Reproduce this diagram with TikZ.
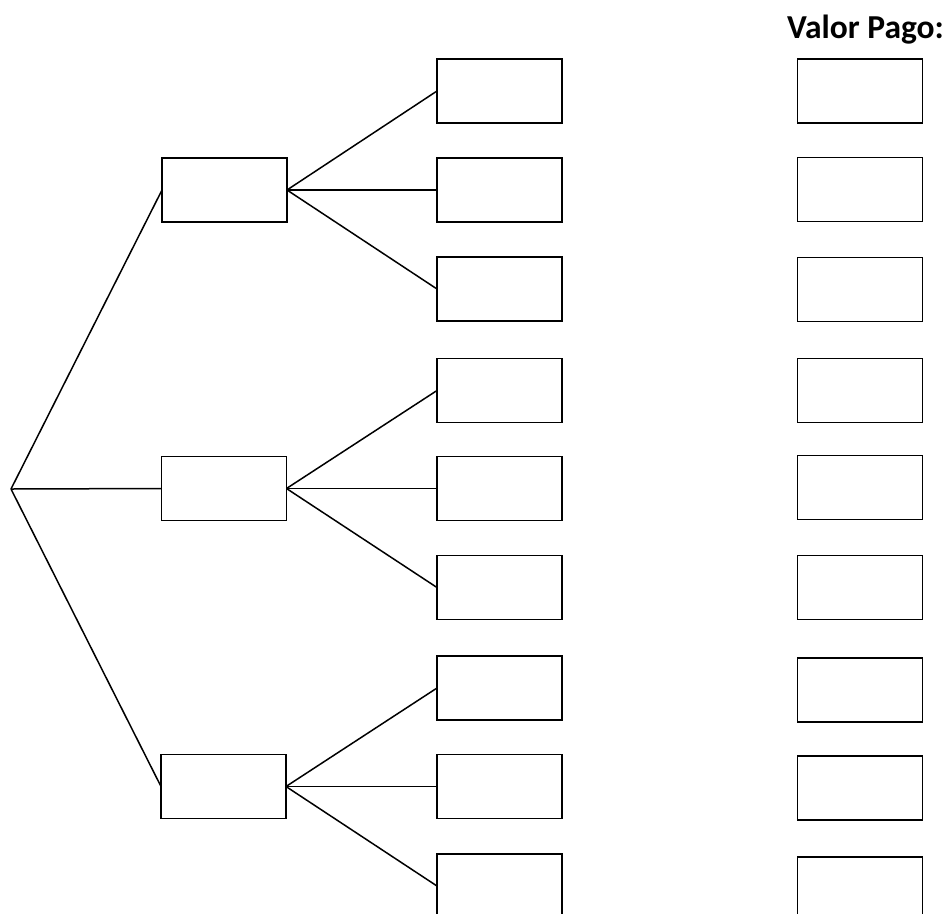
\documentclass[tikz,border=0pt]{standalone}
\usepackage{fontspec}
\setmainfont{Carlito}
\begin{document}
\begin{tikzpicture}[x=1pt,y=-1pt,
  bx/.style={draw=black, line width=1.7pt, minimum width=125pt, minimum height=64pt, inner sep=0pt, outer sep=0pt},
  ln/.style={draw=black, line width=1.5pt}]
\useasboundingbox (0,0) rectangle (949,913);
\clip (0,0) rectangle (949,913);
\fill[white] (0,0) rectangle (949,913);
\coordinate (apex) at (11,489);
% middle boxes
\node[bx] (m1) at (224.5,190) {};
\node[bx] (m2) at (224,488.5) {};
\node[bx] (m3) at (223.5,786.5) {};
% leaves
\node[bx] (l1) at (499.5,91) {};
\node[bx] (l2) at (499.5,190) {};
\node[bx] (l3) at (499.5,289) {};
\node[bx] (l4) at (499.5,390.5) {};
\node[bx] (l5) at (499.5,488.5) {};
\node[bx] (l6) at (499.5,587.5) {};
\node[bx] (l7) at (499.5,688) {};
\node[bx] (l8) at (499.5,786.5) {};
\node[bx] (l9) at (499.5,886) {};
% right column
\node[bx] (r1) at (860,91) {};
\node[bx] (r2) at (860,189.5) {};
\node[bx] (r3) at (860,289.5) {};
\node[bx] (r4) at (860,390.5) {};
\node[bx] (r5) at (860,487.5) {};
\node[bx] (r6) at (860,587.5) {};
\node[bx] (r7) at (860,690) {};
\node[bx] (r8) at (860,788) {};
\node[bx] (r9) at (860,889) {};
\node[anchor=base west, inner sep=0pt, font=\fontsize{33.5}{38}\selectfont\bfseries] (title) at (787,38) {Valor Pago:};
% connectors
\draw[ln] (apex) -- (m1.west);
\draw[ln] (apex) -- (m2.west);
\draw[ln] (apex) -- (m3.west);
\draw[ln] (m1.east) -- (l1.west);
\draw[ln] (m1.east) -- (l2.west);
\draw[ln] (m1.east) -- (l3.west);
\draw[ln] (m2.east) -- (l4.west);
\draw[ln] (m2.east) -- (l5.west);
\draw[ln] (m2.east) -- (l6.west);
\draw[ln] (m3.east) -- (l7.west);
\draw[ln] (m3.east) -- (l8.west);
\draw[ln] (m3.east) -- (l9.west);
\end{tikzpicture}
\end{document}
